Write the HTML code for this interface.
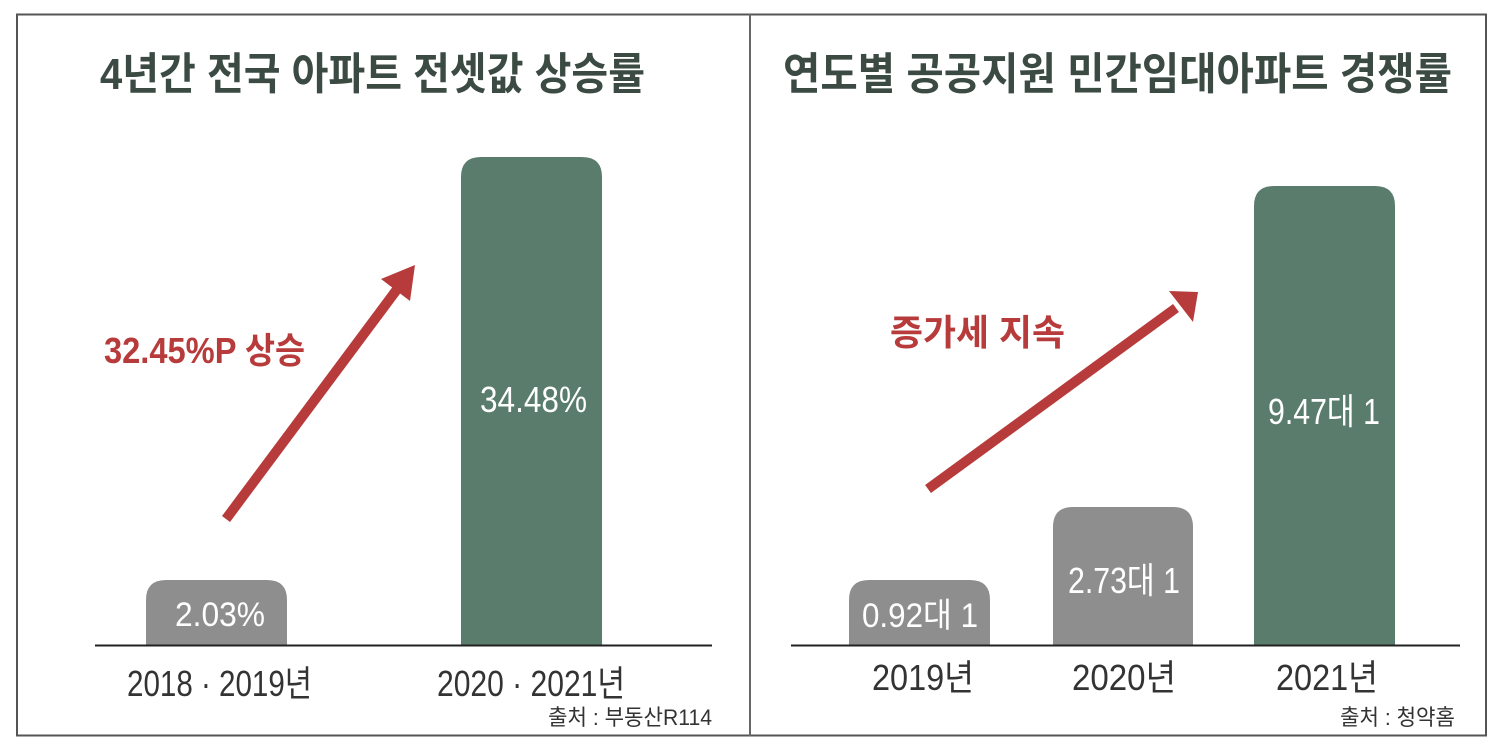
<!DOCTYPE html>
<html><head><meta charset="utf-8"><style>
html,body{margin:0;padding:0;background:#fff;}
svg{display:block;font-family:"Liberation Sans","Noto Sans CJK KR",sans-serif;}
</style></head><body>
<svg width="1500" height="749" viewBox="0 0 1500 749" xmlns="http://www.w3.org/2000/svg">
<rect x="0" y="0" width="1500" height="749" fill="#fff"/>
<rect x="17" y="14.5" width="1469" height="721" fill="none" stroke="#555" stroke-width="2"/>
<line x1="750" y1="14" x2="750" y2="736" stroke="#666" stroke-width="2"/>

<!-- Titles -->
<text x="100" y="89" font-size="44" font-weight="bold" fill="#3b4a43" textLength="545" lengthAdjust="spacingAndGlyphs">4년간 전국 아파트 전셋값 상승률</text>
<text x="783" y="89" font-size="44" font-weight="bold" fill="#3b4a43" textLength="669" lengthAdjust="spacingAndGlyphs">연도별 공공지원 민간임대아파트 경쟁률</text>

<!-- Left chart -->
<path d="M146,645 V600 Q146,580 166,580 H267 Q287,580 287,600 V645 Z" fill="#8e8e8e"/>
<path d="M461,645 V177 Q461,157 481,157 H582 Q602,157 602,177 V645 Z" fill="#5a7c6d"/>
<line x1="95" y1="645.5" x2="712" y2="645.5" stroke="#222" stroke-width="2"/>
<line x1="226" y1="519" x2="398" y2="288" stroke="#b83b3c" stroke-width="10"/>
<polygon points="415,265 381,279 410,301" fill="#b83b3c"/>
<text x="104" y="363" font-size="36" font-weight="bold" fill="#b83b3c" textLength="201" lengthAdjust="spacingAndGlyphs">32.45%P 상승</text>
<text x="480" y="412" font-size="36" fill="#fff" textLength="107" lengthAdjust="spacingAndGlyphs">34.48%</text>
<text x="175" y="626" font-size="34" fill="#fff" textLength="90" lengthAdjust="spacingAndGlyphs">2.03%</text>
<text x="127" y="696" font-size="36" fill="#333" textLength="185" lengthAdjust="spacingAndGlyphs">2018 · 2019년</text>
<text x="437" y="696" font-size="36" fill="#333" textLength="188" lengthAdjust="spacingAndGlyphs">2020 · 2021년</text>
<text x="548" y="725" font-size="22" fill="#333" textLength="164" lengthAdjust="spacingAndGlyphs">출처 : 부동산R114</text>

<!-- Right chart -->
<path d="M849,645 V600 Q849,580 869,580 H970 Q990,580 990,600 V645 Z" fill="#8e8e8e"/>
<path d="M1053,645 V527 Q1053,507 1073,507 H1173 Q1193,507 1193,527 V645 Z" fill="#8e8e8e"/>
<path d="M1254,645 V206 Q1254,186 1274,186 H1375 Q1395,186 1395,206 V645 Z" fill="#5a7c6d"/>
<line x1="791" y1="645.5" x2="1460" y2="645.5" stroke="#222" stroke-width="2"/>
<line x1="928" y1="489" x2="1176" y2="308" stroke="#b83b3c" stroke-width="10"/>
<polygon points="1198,292 1169,291 1193,322" fill="#b83b3c"/>
<text x="890" y="345" font-size="36" font-weight="bold" fill="#b83b3c" textLength="175" lengthAdjust="spacingAndGlyphs">증가세 지속</text>
<text x="1268" y="424" font-size="36" fill="#fff" textLength="112" lengthAdjust="spacingAndGlyphs">9.47대 1</text>
<text x="1068" y="593" font-size="36" fill="#fff" textLength="112" lengthAdjust="spacingAndGlyphs">2.73대 1</text>
<text x="862" y="627" font-size="34" fill="#fff" textLength="116" lengthAdjust="spacingAndGlyphs">0.92대 1</text>
<text x="872" y="690" font-size="36" fill="#333" textLength="102" lengthAdjust="spacingAndGlyphs">2019년</text>
<text x="1072" y="690" font-size="36" fill="#333" textLength="104" lengthAdjust="spacingAndGlyphs">2020년</text>
<text x="1276" y="690" font-size="36" fill="#333" textLength="102" lengthAdjust="spacingAndGlyphs">2021년</text>
<text x="1340" y="725" font-size="22" fill="#333" textLength="115" lengthAdjust="spacingAndGlyphs">출처 : 청약홈</text>
</svg>
</body></html>
